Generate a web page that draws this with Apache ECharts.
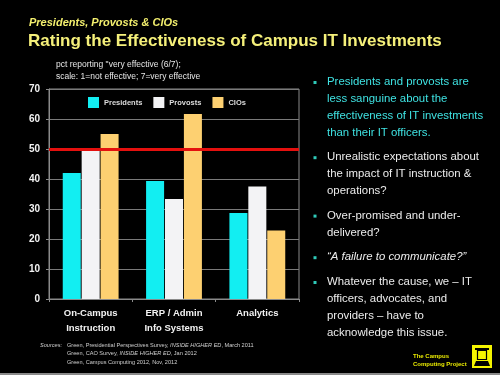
<!DOCTYPE html>
<html>
<head>
<meta charset="utf-8">
<script src="https://cdn.jsdelivr.net/npm/echarts@6/dist/echarts.min.js"></script>
<style>
  html, body { margin: 0; padding: 0; background: #000; }
  #main { width: 500px; height: 375px; }
</style>
</head>
<body>
<div id="main"></div>
<script>
// 数据
var categories = ["On-Campus\nInstruction", "ERP / Admin\nInfo Systems", "Analytics"];
var presidents = [42, 39.3, 28.7];
var provosts = [49.6, 33.3, 37.5];
var cios = [55, 61.7, 22.8];
var benchmark = 50;
var yTicks = [0, 10, 20, 30, 40, 50, 60, 70];

var bullets = [
  { lines: ["Presidents and provosts are", "less sanguine about the", "effectiveness of IT investments", "than their IT officers."], color: "#3fe3e3" },
  { lines: ["Unrealistic expectations about", "the impact of IT instruction &", "operations?"], color: "#ececec" },
  { lines: ["Over-promised and under-", "delivered?"], color: "#ececec" },
  { lines: ["\u201cA failure to communicate?\u201d"], color: "#ececec", italic: true },
  { lines: ["Whatever the cause, we \u2013 IT", "officers, advocates, and", "providers \u2013 have to", "acknowledge this issue."], color: "#ececec" }
];

var sources = [
  "Green, Presidential Perspectives Survey, {i|INSIDE HIGHER ED}, March 2011",
  "Green, CAO Survey, {i|INSIDE HIGHER ED}, Jan 2012",
  "Green, Campus Computing 2012, Nov, 2012"
];

var myChart = echarts.init(document.getElementById("main"));

var font = "Liberation Sans, Arial, sans-serif";
var graphics = [];

function txt(x, y, text, fill, f, extra) {
  var style = { text: text, fill: fill, font: f, textVerticalAlign: "middle", verticalAlign: "middle" };
  for (var k in extra || {}) style[k] = extra[k];
  return { type: "text", x: x, y: y, style: style };
}

// 标题
graphics.push(txt(29, 23, "Presidents, Provosts & CIOs", "#f3ef6e", "italic bold 11px " + font));
graphics.push(txt(28, 41, "Rating the Effectiveness of Campus IT Investments", "#f5f07a", "bold 17px " + font));
graphics.push(txt(56, 65, "pct reporting \"very effective (6/7);", "#e6e6e6", "8.5px " + font));
graphics.push(txt(56, 77, "scale: 1=not effective; 7=very effective", "#e6e6e6", "8.5px " + font));

// 右侧要点
var by = 82, lh = 16.8;
bullets.forEach(function (b) {
  graphics.push({ type: "rect", shape: { x: 313.5, y: by - 1, width: 3, height: 3 }, style: { fill: "#2fc9b8" } });
  b.lines.forEach(function (t, k) {
    graphics.push(txt(327, by + k * lh, t, b.color, (b.italic ? "italic " : "") + "11.4px " + font));
  });
  by += b.lines.length * lh + 8;
});

// 来源
graphics.push(txt(40, 345, "Sources:", "#cfcfcf", "italic 5.6px " + font));
sources.forEach(function (s, k) {
  graphics.push(txt(67, 345 + k * 8.5, s, "#cfcfcf", "5.6px " + font, {
    rich: { i: { fontStyle: "italic", fontSize: 5.6, fill: "#cfcfcf", color: "#cfcfcf" } }
  }));
});

// logo
graphics.push(txt(413, 356, "The Campus", "#e8e800", "bold 6px " + font));
graphics.push(txt(413, 364, "Computing Project", "#e8e800", "bold 6px " + font));
graphics.push({ type: "rect", shape: { x: 472, y: 345, width: 20, height: 23 }, style: { fill: "#f4f400" } });
graphics.push({ type: "rect", shape: { x: 475, y: 348, width: 14, height: 2 }, style: { fill: "#000" } });
graphics.push({ type: "rect", shape: { x: 477.5, y: 350.5, width: 9, height: 9 }, style: { fill: "none", stroke: "#000", lineWidth: 1.2 } });
graphics.push({ type: "polygon", shape: { points: [[476, 361], [488, 361], [490, 366], [474, 366]] }, style: { fill: "#000" } });

// 底部灰条
graphics.push({ type: "rect", shape: { x: 0, y: 373, width: 500, height: 2 }, style: { fill: "#8a8a8a" } });

var labelColor = "#f2f2f2";

var option = {
  backgroundColor: "#000",
  animation: false,
  textStyle: { fontFamily: font },
  grid: {
    left: 49, right: 201, top: 89, bottom: 76,
    show: true, borderColor: "#8a8a8a", borderWidth: 1, backgroundColor: "transparent"
  },
  legend: {
    left: 88, top: 97, padding: 0,
    itemWidth: 11, itemHeight: 11, itemGap: 11,
    icon: "rect",
    textStyle: { color: "#dcdcdc", fontSize: 7.5, fontWeight: "bold" },
    data: ["Presidents", "Provosts", "CIOs"]
  },
  xAxis: {
    type: "category",
    data: categories,
    axisLine: { lineStyle: { color: "#8a8a8a" } },
    axisTick: { show: true, length: 3, lineStyle: { color: "#8a8a8a" } },
    axisLabel: { color: labelColor, fontSize: 9.5, fontWeight: "bold", lineHeight: 15, margin: 7 }
  },
  yAxis: {
    type: "value",
    min: 0, max: 70, interval: 10,
    axisLine: { show: true, lineStyle: { color: "#8a8a8a" } },
    axisTick: { show: true, length: 3, lineStyle: { color: "#8a8a8a" } },
    splitLine: { lineStyle: { color: "#7a7a7a", width: 1 } },
    axisLabel: {
      color: labelColor, fontSize: 10, fontWeight: "bold", margin: 9,
      formatter: function (v) { return yTicks.indexOf(v) >= 0 ? String(v) : ""; }
    }
  },
  series: [
    {
      name: "Presidents", type: "bar", data: presidents,
      barGap: "5%", barCategoryGap: "33%",
      itemStyle: { color: "#12eef2" },
      markLine: {
        silent: true, symbol: "none", label: { show: false },
        lineStyle: { color: "#e4100e", width: 3, type: "solid" },
        data: [{ yAxis: benchmark }],
        z: 10
      }
    },
    { name: "Provosts", type: "bar", data: provosts, itemStyle: { color: "#f3f3f5" } },
    { name: "CIOs", type: "bar", data: cios, itemStyle: { color: "#fdd071" } }
  ],
  graphic: graphics
};

myChart.setOption(option);
</script>
</body>
</html>
